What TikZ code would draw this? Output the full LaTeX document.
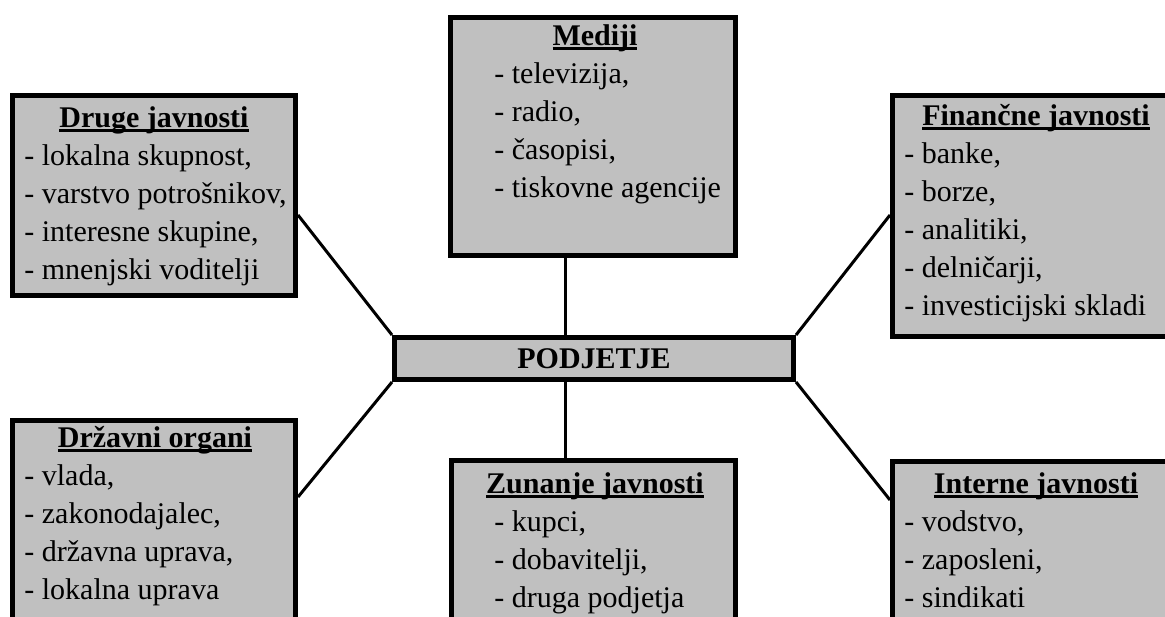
\documentclass[tikz,border=0pt]{standalone}
\usepackage{fontspec}
\setmainfont{Liberation Serif}
\usetikzlibrary{calc}
\definecolor{boxgray}{RGB}{192,192,192}
\newsavebox{\headbox}
\newcommand{\boxhead}[1]{\sbox{\headbox}{\bfseries #1}\rlap{\usebox{\headbox}}\rule[-2.5pt]{\wd\headbox}{1.5pt}}
\tikzset{
    publicbox/.style={
        draw,
        rectangle,
        fill=boxgray,
        line width=2.5pt,
        inner sep=0pt
    },
    boxtitle/.style={
        anchor=base,
        inner sep=0pt,
        font=\fontsize{15}{19}\selectfont
    },
    boxlist/.style={
        anchor=base west,
        inner sep=0pt,
        font=\fontsize{15}{19}\selectfont
    },
    link/.style={line width=1.5pt}
}

\begin{document}
\begin{tikzpicture}[x=0.5pt, y=-0.5pt]
  \path[use as bounding box, clip] (0,0) rectangle (1165,616);

  % Boxes
  \node[publicbox, minimum width=141.5pt, minimum height=100pt] (druge) at (154,195.5) {};
  \node[publicbox, minimum width=142.5pt, minimum height=119pt] (mediji) at (593,136.5) {};
  \node[publicbox, minimum width=143.75pt, minimum height=120.5pt] (financne) at (1036.25,216) {};
  \node[publicbox, minimum width=199.5pt, minimum height=21pt, font=\fontsize{15}{19}\selectfont\bfseries] (podjetje) at (594,358.5) {PODJETJE};
  \node[publicbox, minimum width=141.5pt, minimum height=109.75pt] (drzavni) at (154,530.25) {};
  \node[publicbox, minimum width=142pt, minimum height=89.75pt] (zunanje) at (593.5,550.25) {};
  \node[publicbox, minimum width=143.75pt, minimum height=89.25pt] (interne) at (1036.25,550.75) {};

  % Connections to the company
  \draw[link] ([yshift=-61pt]druge.north east) -- (podjetje.north west);
  \draw[link] ([yshift=-61pt]financne.north west) -- (podjetje.north east);
  \draw[link] ([yshift=-39.5pt]drzavni.north east) -- (podjetje.south west);
  \draw[link] ([yshift=-20.5pt]interne.north west) -- (podjetje.south east);
  \draw[link] ([xshift=-14pt]mediji.south) -- ([xshift=-14pt]mediji.south |- podjetje.north);
  \draw[link] ([xshift=-14.5pt]podjetje.south) -- ([xshift=-14.5pt]podjetje.south |- zunanje.north);

  % Titles
  \node[boxtitle] (drugeT) at (154,127) {\boxhead{Druge javnosti}};
  \node[boxtitle] (medijiT) at (595,45) {\boxhead{Mediji}};
  \node[boxtitle] (financneT) at (1036,125) {\boxhead{Finančne javnosti}};
  \node[boxtitle] (drzavniT) at (155,447) {\boxhead{Državni organi}};
  \node[boxtitle] (zunanjeT) at (595,493) {\boxhead{Zunanje javnosti}};
  \node[boxtitle] (interneT) at (1036,493) {\boxhead{Interne javnosti}};

  % Lists
  \node[boxlist] (drugeL) at (24,165) {\begin{tabular}[t]{@{}l@{}}
    - lokalna skupnost,\\ - varstvo potrošnikov,\\ - interesne skupine,\\ - mnenjski voditelji
  \end{tabular}};
  \node[boxlist] (medijiL) at (494,83) {\begin{tabular}[t]{@{}l@{}}
    - televizija,\\ - radio,\\ - časopisi,\\ - tiskovne agencije
  \end{tabular}};
  \node[boxlist] (financneL) at (904,163) {\begin{tabular}[t]{@{}l@{}}
    - banke,\\ - borze,\\ - analitiki,\\ - delničarji,\\ - investicijski skladi
  \end{tabular}};
  \node[boxlist] (drzavniL) at (24,485) {\begin{tabular}[t]{@{}l@{}}
    - vlada,\\ - zakonodajalec,\\ - državna uprava,\\ - lokalna uprava
  \end{tabular}};
  \node[boxlist] (zunanjeL) at (494,531) {\begin{tabular}[t]{@{}l@{}}
    - kupci,\\ - dobavitelji,\\ - druga podjetja
  \end{tabular}};
  \node[boxlist] (interneL) at (904,531) {\begin{tabular}[t]{@{}l@{}}
    - vodstvo,\\ - zaposleni,\\ - sindikati
  \end{tabular}};
\end{tikzpicture}
\end{document}
